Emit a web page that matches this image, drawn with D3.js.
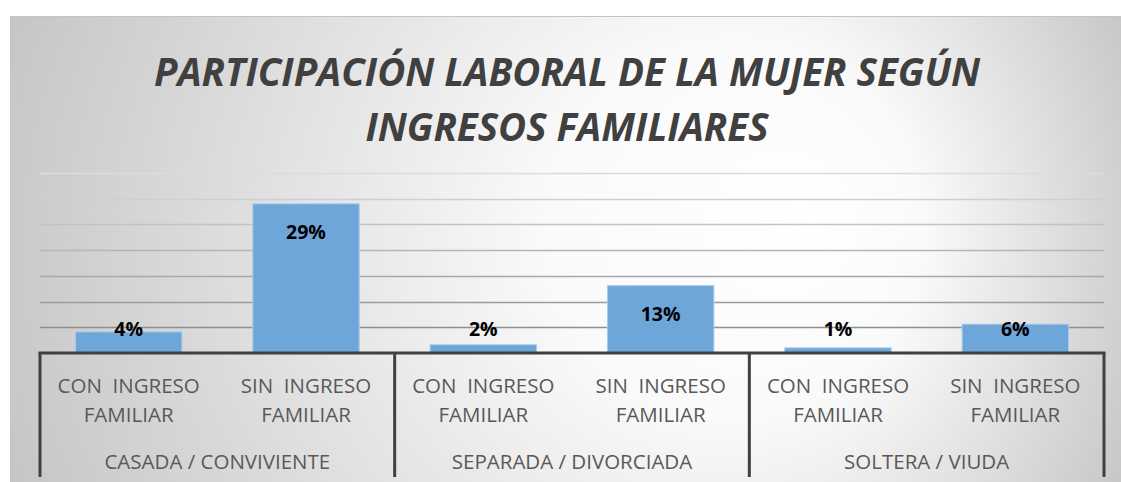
<!DOCTYPE html>
<html>
<head>
<meta charset="utf-8">
<script src="https://cdn.jsdelivr.net/npm/d3@7"></script>
<style>
  body { margin: 0; background: #fff; }
  svg { display: block; }
  text { font-family: "Open Sans", "Noto Sans", sans-serif; }
</style>
</head>
<body>
<div id="chart"></div>
<script>
var groups = ["CASADA / CONVIVIENTE", "SEPARADA / DIVORCIADA", "SOLTERA / VIUDA"];
var subcats = ["CON  INGRESO FAMILIAR", "SIN  INGRESO FAMILIAR"];
var values = [
  [0.041, 0.290],   // casada / conviviente
  [0.016, 0.131],   // separada / divorciada
  [0.010, 0.056]    // soltera / viuda
];
var yTicks = [0.05, 0.10, 0.15, 0.20, 0.25, 0.30, 0.35];
var titleLines = ["PARTICIPACIÓN LABORAL DE LA MUJER SEGÚN", "INGRESOS FAMILIARES"];

var width = 1121,
	height = 482,
	plotLeft = 40, plotRight = 1104,
	plotBase = 353, plotTop = 173;

var svg = d3.select("#chart")
	.append("svg")
	.attr("width", width)
	.attr("height", height);

var defs = svg.append("defs");

var bg = defs.append("radialGradient")
	.attr("id", "bg")
	.attr("gradientUnits", "userSpaceOnUse")
	.attr("cx", 565).attr("cy", 250).attr("r", 620)
	.attr("fx", 810).attr("fy", 220);
bg.append("stop").attr("offset", "0").attr("stop-color", "#ffffff");
bg.append("stop").attr("offset", "0.3").attr("stop-color", "#fafafa");
bg.append("stop").attr("offset", "1").attr("stop-color", "#c4c4c4");

var gridGrad = defs.append("linearGradient")
	.attr("id", "gridGrad")
	.attr("gradientUnits", "userSpaceOnUse")
	.attr("x1", 0).attr("y1", plotTop).attr("x2", 0).attr("y2", plotBase - 25);
gridGrad.append("stop").attr("offset", "0").attr("stop-color", "#dcdcdc");
gridGrad.append("stop").attr("offset", "1").attr("stop-color", "#8f8f8f");

// chart area
svg.append("rect")
	.attr("x", 10.5).attr("y", 16.5)
	.attr("width", width + 10).attr("height", height)
	.attr("fill", "url(#bg)")
	.attr("stroke", "#c4c4c4");

// title
svg.append("g").selectAll("text")
	.data(titleLines)
	.enter().append("text")
	.attr("x", 567)
	.attr("y", function(d, i) { return 86 + i * 55; })
	.attr("text-anchor", "middle")
	.style("font-size", "38.5px")
	.style("font-weight", "bold")
	.style("font-style", "italic")
	.style("fill", "#404040")
	.text(function(d) { return d; });

var x0 = d3.scaleBand()
	.domain(groups)
	.range([plotLeft, plotRight]);

var x1 = d3.scaleBand()
	.domain(subcats)
	.range([0, x0.bandwidth()])
	.paddingInner(0.4)
	.paddingOuter(0.2);

var y = d3.scaleLinear()
	.domain([0, 0.35])
	.range([plotBase, plotTop]);

// gridlines
svg.append("g").selectAll("line")
	.data(yTicks)
	.enter().append("line")
	.attr("x1", plotLeft).attr("x2", plotRight)
	.attr("y1", function(d) { return Math.round(y(d)) + 0.5; })
	.attr("y2", function(d) { return Math.round(y(d)) + 0.5; })
	.attr("stroke", "url(#gridGrad)")
	.attr("stroke-width", 1.5);

var rows = [];
groups.forEach(function(g, i) {
	subcats.forEach(function(s, j) {
		rows.push({ group: g, sub: s, value: values[i][j] });
	});
});

var fmt = d3.format(".0%");

// bars
svg.append("g").selectAll("rect")
	.data(rows)
	.enter().append("rect")
	.attr("x", function(d) { return x0(d.group) + x1(d.sub); })
	.attr("y", function(d) { return y(d.value); })
	.attr("width", x1.bandwidth())
	.attr("height", function(d) { return plotBase - y(d.value); })
	.attr("fill", "#6fa6da")
	.attr("stroke", "#a8cbec")
	.attr("stroke-width", 1);

// data labels
svg.append("g").selectAll("text")
	.data(rows)
	.enter().append("text")
	.attr("x", function(d) { return x0(d.group) + x1(d.sub) + x1.bandwidth() / 2; })
	.attr("y", function(d) { return Math.min(y(d.value) + 35, plotBase - 17); })
	.attr("text-anchor", "middle")
	.style("font-size", "19.5px")
	.style("font-weight", "bold")
	.style("fill", "#000")
	.text(function(d) { return fmt(d.value); });

// category axis
var axis = svg.append("g")
	.attr("stroke", "#404040")
	.attr("stroke-width", 3);

axis.append("line")
	.attr("x1", plotLeft - 1.5).attr("x2", plotRight + 1.5)
	.attr("y1", plotBase).attr("y2", plotBase);

axis.selectAll("line.div")
	.data(groups.concat([null]))
	.enter().append("line")
	.attr("class", "div")
	.attr("x1", function(d) { return d ? x0(d) : plotRight; })
	.attr("x2", function(d) { return d ? x0(d) : plotRight; })
	.attr("y1", plotBase).attr("y2", 477);

var lbl = svg.append("g")
	.style("font-size", "20.5px")
	.style("fill", "#595959")
	.attr("text-anchor", "middle");

lbl.selectAll("text.sub")
	.data(rows)
	.enter().append("text")
	.attr("class", "sub")
	.attr("x", function(d) { return x0(d.group) + x1(d.sub) + x1.bandwidth() / 2; })
	.attr("y", 393)
	.style("white-space", "pre")
	.each(function(d) {
		var parts = d.sub.split(" FAMILIAR");
		var t = d3.select(this);
		t.append("tspan").text(parts[0]);
		t.append("tspan")
			.attr("x", t.attr("x"))
			.attr("dy", 29)
			.text("FAMILIAR");
	});

lbl.selectAll("text.grp")
	.data(groups)
	.enter().append("text")
	.attr("class", "grp")
	.attr("x", function(d) { return x0(d) + x0.bandwidth() / 2; })
	.attr("y", 469)
	.text(function(d) { return d; });
</script>
</body>
</html>
